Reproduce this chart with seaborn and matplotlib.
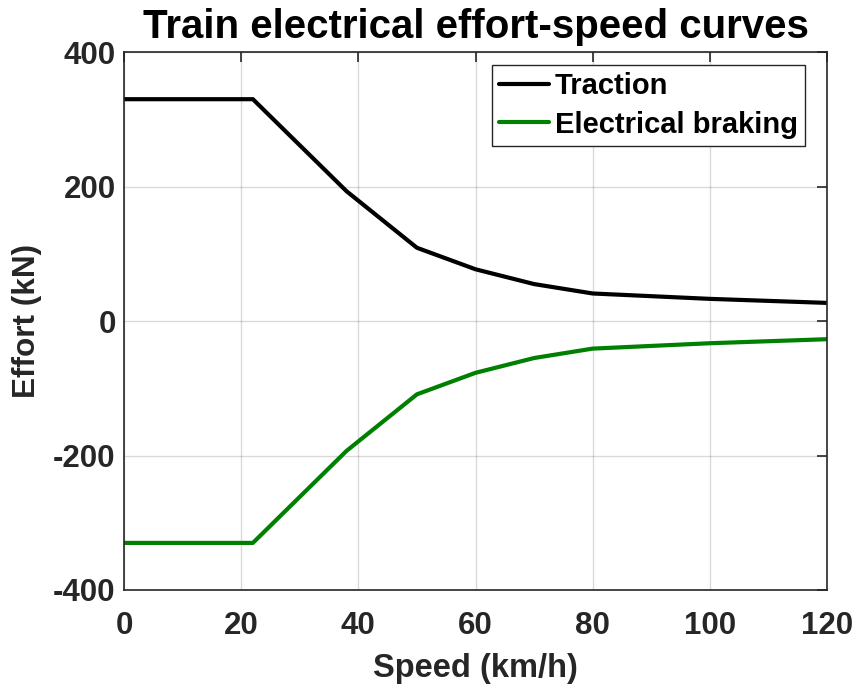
import matplotlib
matplotlib.use("Agg")
import matplotlib.pyplot as plt
import numpy as np
import pandas as pd
import seaborn as sns

# Effort-speed characteristic of the train
speed_kmh = [0, 22, 38, 50, 60, 70, 80, 100, 120]
traction_kn = [330, 330, 193, 109, 77, 55, 41, 33, 27]
braking_kn = [-330, -330, -193, -109, -77, -55, -41, -33, -27]
series_names = ["Traction", "Electrical braking"]
x_ticks = [0, 20, 40, 60, 80, 100, 120]
y_ticks = [-400, -200, 0, 200, 400]

df = pd.concat([
    pd.DataFrame({"speed": speed_kmh, "effort": traction_kn, "curve": series_names[0]}),
    pd.DataFrame({"speed": speed_kmh, "effort": braking_kn, "curve": series_names[1]}),
])

sns.set_theme(style="white")
plt.rcParams["font.family"] = ["Liberation Sans", "DejaVu Sans"]
plt.rcParams["font.weight"] = "bold"
plt.rcParams["axes.unicode_minus"] = False

fig = plt.figure(figsize=(8.57, 6.86), dpi=100)
ax = fig.add_axes([0.1447, 0.140, 0.8203, 0.784])

sns.lineplot(data=df, x="speed", y="effort", hue="curve",
             palette={series_names[0]: "black", series_names[1]: "#008000"},
             linewidth=3, ax=ax, sort=False, estimator=None)

ax.set_xlim(0, 120)
ax.set_ylim(-400, 400)
ax.set_xticks(x_ticks)
ax.set_yticks(y_ticks)
ax.grid(True, color="#000000", alpha=0.15, linewidth=1)

dark = "#262626"
for s in ax.spines.values():
    s.set_color(dark)
    s.set_linewidth(1.2)
    s.set_visible(True)
ax.tick_params(direction="in", length=7, width=1.2, color=dark, labelcolor=dark,
               labelsize=22.5, top=True, right=True)
ax.tick_params(axis="x", pad=15)
ax.tick_params(axis="y", pad=6)
for lab in ax.get_xticklabels() + ax.get_yticklabels():
    lab.set_fontweight("bold")

ax.set_xlabel("Speed (km/h)", fontsize=23.5, fontweight="bold", color=dark)
ax.set_ylabel("Effort (kN)", fontsize=22.7, fontweight="bold", color=dark)
ax.xaxis.set_label_coords(0.5, -0.117)
ax.yaxis.set_label_coords(-0.117, 0.501)
ax.set_title("Train electrical effort-speed curves", fontsize=29, fontweight="bold",
             color="black", pad=10)

leg = ax.legend(loc="upper right", bbox_to_anchor=(0.9687, 0.9758), borderaxespad=0,
                fontsize=21, frameon=True, fancybox=False,
                edgecolor=dark, framealpha=1, borderpad=0.25, labelspacing=0.35,
                handlelength=1.7, handletextpad=0.2)
leg.get_frame().set_linewidth(1.0)
for t in leg.get_texts():
    t.set_fontweight("bold")
    t.set_color("black")

fig.savefig("out.png", dpi=100)
